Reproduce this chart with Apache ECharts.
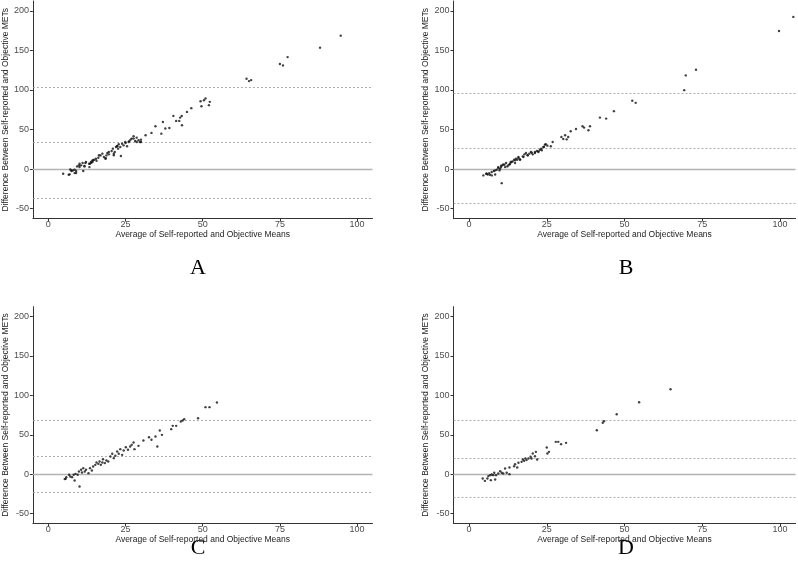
<!DOCTYPE html>
<html><head><meta charset="utf-8">
<script src="https://cdn.jsdelivr.net/npm/echarts@6/dist/echarts.min.js"></script>
<style>html,body{margin:0;padding:0;background:#fff}#c{width:798px;height:573px}</style>
</head><body><div id="c"></div>
<script>
// ---- data ----
var xTicks = [0, 25, 50, 75, 100];
var yTicks = [-50, 0, 50, 100, 150, 200];
var panelLabels = ['A', 'B', 'C', 'D'];
// reference lines: [lower LoA, mean bias, upper LoA]
var limitsA = [-37.2, 33.4, 104];
var limitsB = [-42.6, 26.6, 95.6];
var limitsC = [-23.3, 22.5, 68.5];
var limitsD = [-29.2, 20.0, 68.5];

var pointsA = [
[4.8,-5.9],[6.6,-7.2],[6.9,-6.7],[7.1,-0.4],[7.4,-1.6],[7.5,-2.5],[8.0,-1.7],[8.5,-0.8],[8.5,-5.1],[9.0,-2.5],[9.0,-5.0],
[9.3,3.4],[9.9,4.7],[10.1,6.8],[10.1,2.6],[10.6,4.7],[11.1,7.6],[11.3,-2.5],[11.7,3.8],[11.7,3.4],[12.0,7.6],[12.2,9.0],
[13.2,6.8],[13.3,2.5],[13.5,6.8],[13.8,9.0],[13.9,8.0],[14.3,8.9],[14.3,11.0],[14.5,11.0],[14.8,11.8],[15.4,13.1],[15.6,10.5],
[16.2,14.4],[16.4,17.4],[16.9,17.3],[17.5,19.5],[18.0,15.2],[18.5,13.1],[18.6,13.8],[18.8,17.3],[19.1,20.3],[19.6,18.6],[19.6,21.6],
[20.5,22.8],[20.9,25.8],[21.2,19.5],[21.2,17.4],[21.5,21.6],[21.9,27.9],[22.3,29.2],[22.3,28.8],[22.6,25.8],[22.8,31.3],
[23.3,27.9],[23.5,16.5],[23.9,32.1],[24.4,30.0],[24.9,34.2],[25.0,33.0],[25.5,28.8],[26.0,34.3],[26.2,35.1],[26.6,37.2],
[27.0,38.5],[27.6,41.4],[27.6,38.5],[28.1,35.5],[28.6,39.7],[28.6,34.3],[29.2,36.4],[29.7,34.2],[30.0,37.2],[30.0,34.3],
[31.5,42.7],[33.4,45.7],[34.7,54.1],[36.6,44.8],[37.1,59.6],[37.9,51.2],[39.2,52.0],[40.5,67.2],[41.4,60.9],[42.4,60.9],
[42.7,65.1],[43.2,67.2],[43.3,55.4],[44.9,72.3],[46.3,77.0],[49.3,85.8],[49.6,79.5],[50.4,87.1],[50.9,89.2],[52.0,80.8],
[52.3,85.0],[64.2,114.2],[65.0,111.2],[65.7,112.5],[75.0,132.8],[76.0,131.1],[77.5,141.6],[88.0,153.5],[94.7,168.7]
];
var pointsB = [
[4.6,-8.0],[5.5,-5.9],[5.7,-5.9],[6.0,-6.8],[6.5,-5.1],[6.7,-7.1],[7.3,-8.0],[7.3,-3.8],[8.0,-2.5],[8.4,-6.8],[8.4,-1.6],
[8.9,-0.8],[9.4,2.5],[9.4,1.3],[9.8,-1.7],[10.0,0.4],[10.3,4.2],[10.3,2.5],[10.5,-17.8],[10.7,4.7],[11.0,5.9],[11.4,5.5],
[11.6,2.5],[11.9,7.6],[12.3,3.4],[12.6,4.7],[13.0,5.9],[13.2,6.8],[13.4,8.9],[13.7,8.9],[14.0,9.7],[14.5,11.8],[14.8,7.6],
[14.8,11.0],[15.1,13.1],[15.5,11.8],[15.9,15.2],[15.9,13.9],[16.4,11.8],[16.4,12.3],[17.3,16.1],[17.5,15.2],[17.8,18.6],
[18.3,20.3],[18.8,17.8],[18.9,17.3],[19.4,19.5],[19.9,21.6],[20.2,20.7],[20.5,18.6],[21.2,20.3],[21.2,21.6],[21.8,22.8],
[22.3,21.6],[22.3,22.4],[22.8,24.5],[23.2,25.8],[23.4,23.7],[23.9,27.9],[24.1,27.9],[24.4,30.9],[24.7,31.3],[25.2,29.6],
[26.3,28.8],[26.9,34.2],[29.7,40.6],[30.3,38.1],[30.9,42.7],[31.4,37.6],[31.9,40.6],[32.7,47.8],[34.4,50.7],[36.5,54.1],
[37.0,52.4],[38.4,49.0],[38.9,54.1],[42.1,65.1],[44.1,63.8],[46.6,73.2],[52.5,86.3],[53.6,83.7],[69.2,99.8],[69.7,118.4],
[73.0,125.6],[99.7,174.6],[104.3,192.4]
];
var pointsC = [
[5.3,-6.3],[5.6,-5.9],[5.8,-3.8],[6.7,-0.8],[7.1,-3.0],[7.7,-3.8],[8.2,-0.8],[8.5,-8.0],[8.8,0.4],[9.5,-0.8],[9.9,3.4],
[10.1,-15.6],[10.6,5.5],[10.9,2.1],[11.3,7.6],[11.8,3.4],[12.2,5.5],[13.0,1.3],[13.5,7.6],[14.1,4.7],[14.5,9.7],[15.2,11.8],
[15.6,14.8],[16.2,13.1],[16.6,16.1],[17.0,11.8],[17.5,14.8],[17.7,19.0],[18.3,14.0],[18.8,17.3],[19.4,16.1],[20.1,22.4],
[20.7,25.8],[21.2,20.3],[21.7,23.3],[22.3,28.8],[22.8,25.8],[23.3,31.7],[23.9,24.5],[24.4,30.0],[25.1,34.2],[25.8,30.9],
[26.5,35.1],[27.0,37.2],[27.6,40.2],[27.9,31.7],[29.2,35.9],[30.8,42.7],[32.6,46.9],[33.4,43.6],[34.7,47.8],[35.3,35.1],
[36.1,55.4],[36.8,49.9],[39.8,57.1],[40.3,61.3],[41.4,61.3],[42.9,66.8],[43.5,68.1],[44.0,69.8],[48.5,71.0],[50.9,85.0],
[52.2,85.0],[54.6,90.9]
];
var pointsD = [
[4.4,-5.5],[5.1,-8.5],[5.9,-5.5],[6.2,-2.5],[6.8,-1.3],[7.0,-7.6],[7.3,-0.4],[7.8,-1.3],[8.1,1.7],[8.4,-6.8],[8.7,-1.3],
[9.4,0.8],[10.0,3.8],[10.5,1.7],[11.0,0.8],[11.6,7.2],[12.1,1.7],[13.0,8.5],[13.0,0.0],[14.5,10.1],[14.8,12.7],[15.5,8.5],
[15.9,14.4],[16.9,15.6],[17.3,18.6],[17.7,16.9],[18.1,19.9],[18.5,17.8],[19.1,19.9],[19.8,22.0],[20.1,19.9],[20.5,26.2],
[21.2,22.8],[21.5,28.3],[21.9,18.6],[25.0,33.8],[25.2,26.2],[25.7,28.3],[27.9,41.0],[28.7,41.0],[29.6,38.1],[31.2,39.7],
[41.1,55.8],[43.0,65.1],[43.4,67.2],[47.5,76.1],[54.7,91.3],[64.8,107.8]
];

// ---- chart ----
var panels = [
  {pts: pointsA, lim: limitsA, grid: {left: 26.5, top: 1, width: 346, height: 217.5}, lab: [198, 268]},
  {pts: pointsB, lim: limitsB, grid: {left: 453.5, top: 1, width: 342, height: 217.5}, lab: [626, 268]},
  {pts: pointsC, lim: limitsC, grid: {left: 26.5, top: 306.7, width: 346, height: 216.7}, lab: [198, 548]},
  {pts: pointsD, lim: limitsD, grid: {left: 453.5, top: 306.7, width: 342, height: 216.7}, lab: [626, 548]}
];
var FONT = 'Liberation Sans, Arial, sans-serif';
var grids = [], xAxes = [], yAxes = [], series = [], graphics = [];
panels.forEach(function (p, i) {
  grids.push(Object.assign({containLabel: false}, p.grid));
  xAxes.push({
    type: 'value', gridIndex: i, min: -5, max: 105,
    name: 'Average of Self-reported and Objective Means', nameLocation: 'middle', nameGap: 10,
    nameTextStyle: {fontFamily: FONT, fontSize: 8.5, color: '#222'},
    axisLine: {onZero: false, lineStyle: {color: '#333', width: 1}},
    axisTick: {show: true, length: 3, customValues: xTicks, lineStyle: {color: '#333'}},
    axisLabel: {customValues: xTicks, margin: 1.5, fontFamily: FONT, fontSize: 9, color: '#4d4d4d'},
    splitLine: {show: false}
  });
  yAxes.push({
    type: 'value', gridIndex: i, min: -62.5, max: 212.5,
    name: 'Difference Between Self-reported and Objective METs', nameLocation: 'middle', nameGap: 19,
    nameTextStyle: {fontFamily: FONT, fontSize: 8.5, color: '#222'},
    axisLine: {show: true, onZero: false, lineStyle: {color: '#333', width: 1}},
    axisTick: {show: true, length: 3, customValues: yTicks, lineStyle: {color: '#333'}},
    axisLabel: {customValues: yTicks, margin: 4, fontFamily: FONT, fontSize: 9, color: '#4d4d4d'},
    splitLine: {show: false}
  });
  series.push({
    type: 'scatter', xAxisIndex: i, yAxisIndex: i, data: p.pts,
    symbol: 'circle', symbolSize: 2.4, itemStyle: {color: '#111'}, silent: true, z: 5,
    markLine: {
      silent: true, symbol: ['none', 'none'], label: {show: false}, animation: false,
      data: [
        {yAxis: 0, lineStyle: {type: 'solid', color: '#b3b3b3', width: 1.4}},
        {yAxis: p.lim[0], lineStyle: {type: [2, 2], color: '#999', width: 0.8}},
        {yAxis: p.lim[1], lineStyle: {type: [2, 2], color: '#999', width: 0.8}},
        {yAxis: p.lim[2], lineStyle: {type: [2, 2], color: '#999', width: 0.8}}
      ]
    }
  });
  graphics.push({
    type: 'text', x: p.lab[0], y: p.lab[1],
    style: {text: panelLabels[i], font: '22px "Liberation Serif", "Times New Roman", serif', fill: '#000', textAlign: 'center', textVerticalAlign: 'middle'}
  });
});
var chart = echarts.init(document.getElementById('c'), null, {renderer: 'canvas'});
chart.setOption({
  animation: false,
  backgroundColor: '#fff',
  grid: grids, xAxis: xAxes, yAxis: yAxes, series: series, graphic: graphics
});
</script></body></html>
